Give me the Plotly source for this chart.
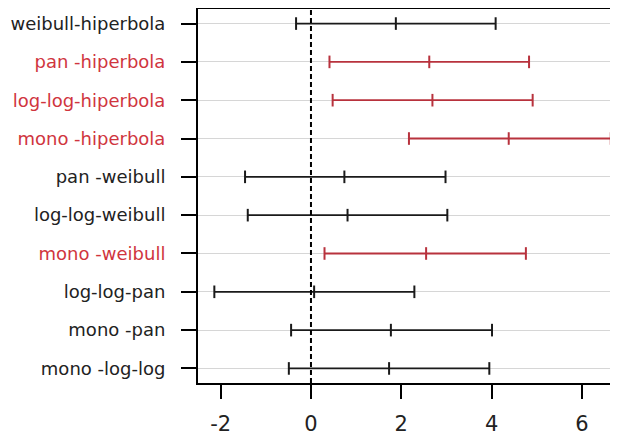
import plotly.graph_objects as go

labels = ["weibull-hiperbola", "pan -hiperbola", "log-log-hiperbola", "mono -hiperbola",
          "pan -weibull", "log-log-weibull", "mono -weibull", "log-log-pan",
          "mono -pan", "mono -log-log"]
lower = [-0.33, 0.41, 0.48, 2.17, -1.46, -1.40, 0.30, -2.14, -0.44, -0.49]
mid = [1.88, 2.62, 2.69, 4.38, 0.74, 0.81, 2.55, 0.07, 1.77, 1.73]
upper = [4.09, 4.83, 4.91, 6.64, 2.98, 3.02, 4.76, 2.29, 4.01, 3.95]
x_ticks = [-2, 0, 2, 4, 6]

RED_LINE = "#b8323d"
RED_TEXT = "#d0353e"
BLACK = "#1a1a1a"

n = len(labels)
ypos = [n - i for i in range(n)]

fig = go.Figure()
ticktext = []
for i, lab in enumerate(labels):
    sig = lower[i] > 0
    col = RED_LINE if sig else BLACK
    fig.add_trace(go.Scatter(
        x=[lower[i], mid[i], upper[i]], y=[ypos[i]] * 3,
        mode="lines+markers",
        line=dict(color=col, width=1.8),
        marker=dict(symbol="line-ns", size=9, line=dict(color=col, width=2)),
        showlegend=False, hoverinfo="skip", cliponaxis=False))
    if sig:
        ticktext.append(f"<span style='color:{RED_TEXT}'>{lab}</span>")
    else:
        ticktext.append(lab)

fig.add_shape(type="line", x0=0, x1=0, y0=0, y1=1, xref="x", yref="paper",
              line=dict(color="black", width=2, dash="5px,3px"))

fig.update_layout(
    width=610, height=427,
    margin=dict(l=190, r=0, t=1, b=52, autoexpand=False),
    plot_bgcolor="white", paper_bgcolor="white",
    font=dict(family="DejaVu Sans", color="#222222"),
    xaxis=dict(range=[-2.502, 6.80], tickvals=x_ticks, ticktext=[str(t) for t in x_ticks],
               showgrid=False, zeroline=False, showline=True, linecolor="black",
               linewidth=2, mirror=True, ticks="outside", ticklen=14, tickwidth=2,
               tickcolor="black", tickfont=dict(size=21, color="#222222"),
               ticklabelstandoff=7, automargin=False),
    yaxis=dict(range=[0.62, 10.38], tickvals=ypos, ticktext=ticktext,
               showgrid=True, gridcolor="#d6d6d6", gridwidth=1, zeroline=False,
               showline=True, linecolor="black", linewidth=2, mirror=False,
               ticks="outside", ticklen=15, tickwidth=2, tickcolor="black",
               tickfont=dict(size=18, color="#222222"), ticklabelstandoff=12,
               automargin=False),
)

fig.write_html("out.html")
